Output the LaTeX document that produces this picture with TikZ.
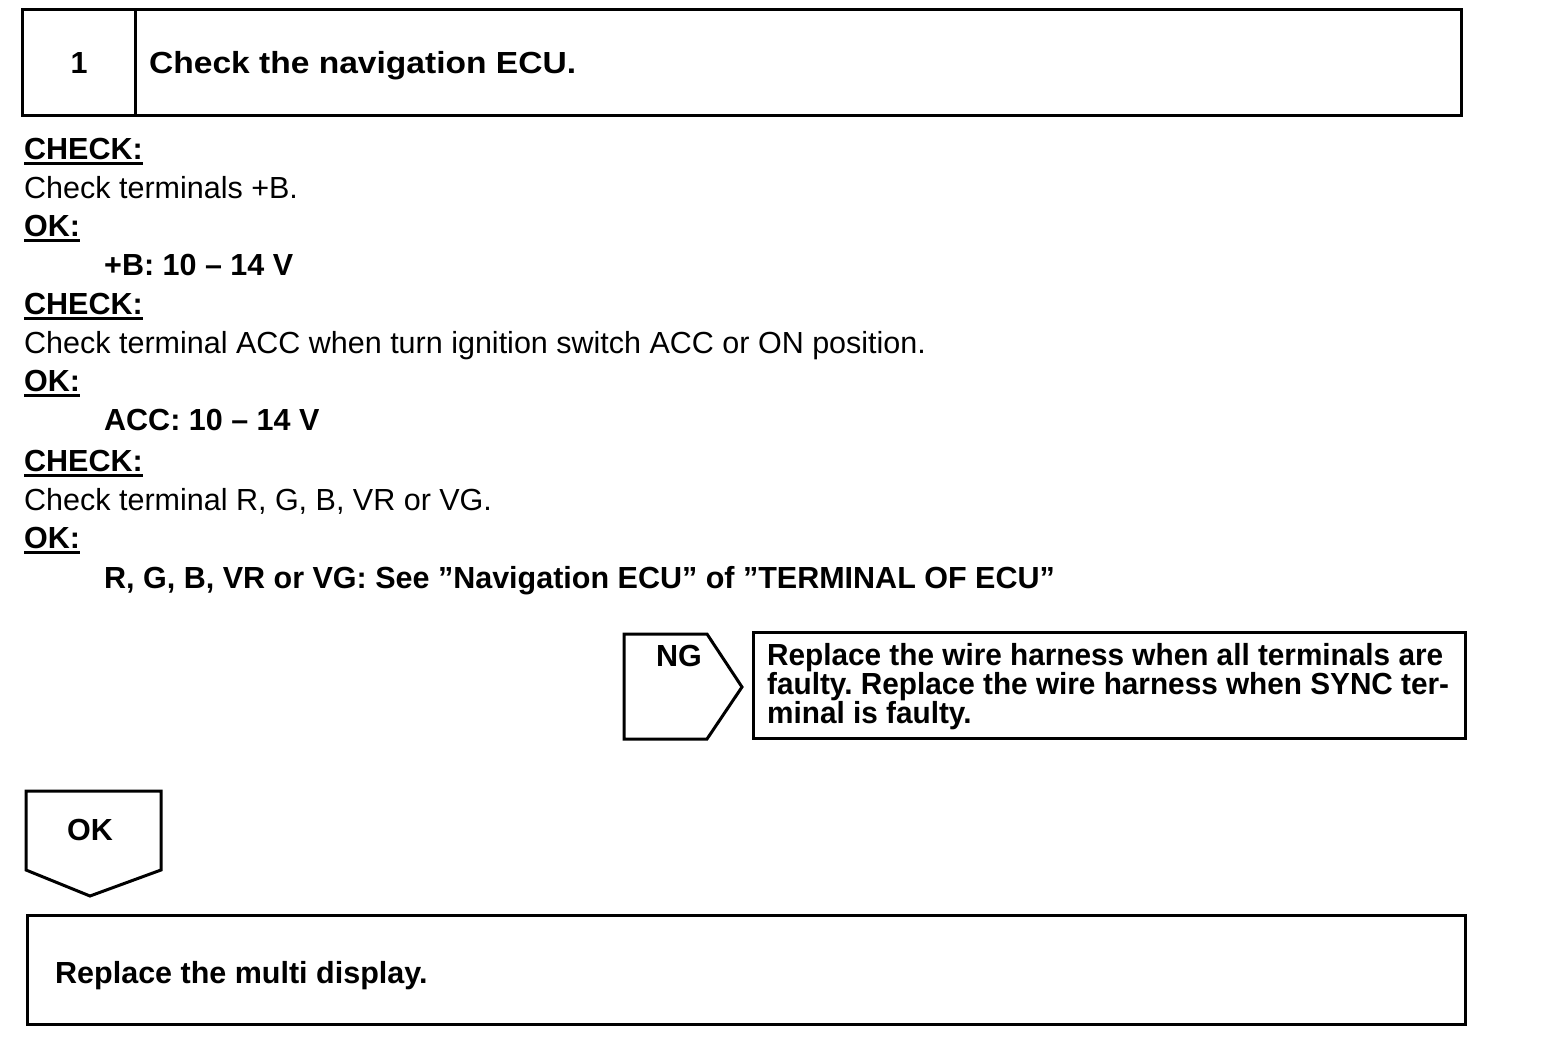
\documentclass[tikz,border=0pt]{standalone}
\usepackage{fontspec}
\setmainfont{Liberation Sans}
\frenchspacing
\newcommand\ulx[1]{\setbox0\hbox{#1}\leavevmode\rlap{\copy0}\raisebox{-5.5pt}{\rule{\wd0}{2.6pt}}}
\tikzset{
  box/.style={draw=black, line width=3pt, line join=miter},
  txt/.style={inner sep=0pt, anchor=base west, font=\fontsize{30.5}{32}\selectfont},
  btxt/.style={txt, font=\fontsize{30.5}{32}\selectfont\bfseries},
  ntxt/.style={txt, font=\fontsize{30.5}{32}\selectfont\bfseries\addfontfeature{FakeStretch=0.975}},
  ctxt/.style={inner sep=0pt, anchor=base, font=\fontsize{30.5}{32}\selectfont\bfseries},
}
\begin{document}
\begin{tikzpicture}[x=1pt,y=-1pt]
\useasboundingbox (0,0) rectangle (1568,1060);
% header
\draw[box] (22,9) rectangle (1461,115);
\draw[box] (135,9) -- (135,115);
\node[ctxt] (num) at (79,73) {1};
\node[btxt, font=\fontsize{30.5}{32}\selectfont\bfseries\addfontfeature{FakeStretch=1.1}] (title) at (149,73) {Check the navigation ECU.};
% body
\node[btxt] (c1) at (24,159) {\ulx{CHECK:}};
\node[txt]  (l1) at (24,198) {Check terminals +B.};
\node[btxt] (o1) at (24,236) {\ulx{OK:}};
\node[btxt] (v1) at (104,275) {+B: 10 – 14 V};
\node[btxt] (c2) at (24,314) {\ulx{CHECK:}};
\node[txt]  (l2) at (24,353) {Check terminal ACC when turn ignition switch ACC or ON position.};
\node[btxt] (o2) at (24,391) {\ulx{OK:}};
\node[btxt] (v2) at (104,430) {ACC: 10 – 14 V};
\node[btxt] (c3) at (24,471) {\ulx{CHECK:}};
\node[txt]  (l3) at (24,510) {Check terminal R, G, B, VR or VG.};
\node[btxt] (o3) at (24,548) {\ulx{OK:}};
\node[btxt] (v3) at (104,588) {R, G, B, VR or VG: See ”Navigation ECU” of ”TERMINAL OF ECU”};
% NG arrow
\draw[box] (624,634) -- (707,634) -- (742,687) -- (707,739) -- (624,739) -- cycle;
\node[ctxt] (ng) at (679,666) {NG};
\draw[box] (753,632) rectangle (1465,738);
\node[ntxt] (r1) at (767,665) {Replace the wire harness when all terminals are};
\node[ntxt] (r2) at (767,694) {faulty. Replace the wire harness when SYNC ter-};
\node[ntxt] (r3) at (767,723) {minal is faulty.};
% OK arrow
\draw[box] (26,791) -- (161,791) -- (161,870) -- (90,896) -- (26,870) -- cycle;
\node[ctxt] (ok) at (90,840) {OK};
% final box
\draw[box] (27,915) rectangle (1465,1024);
\node[btxt] (fin) at (55,983) {Replace the multi display.};
\end{tikzpicture}
\end{document}
